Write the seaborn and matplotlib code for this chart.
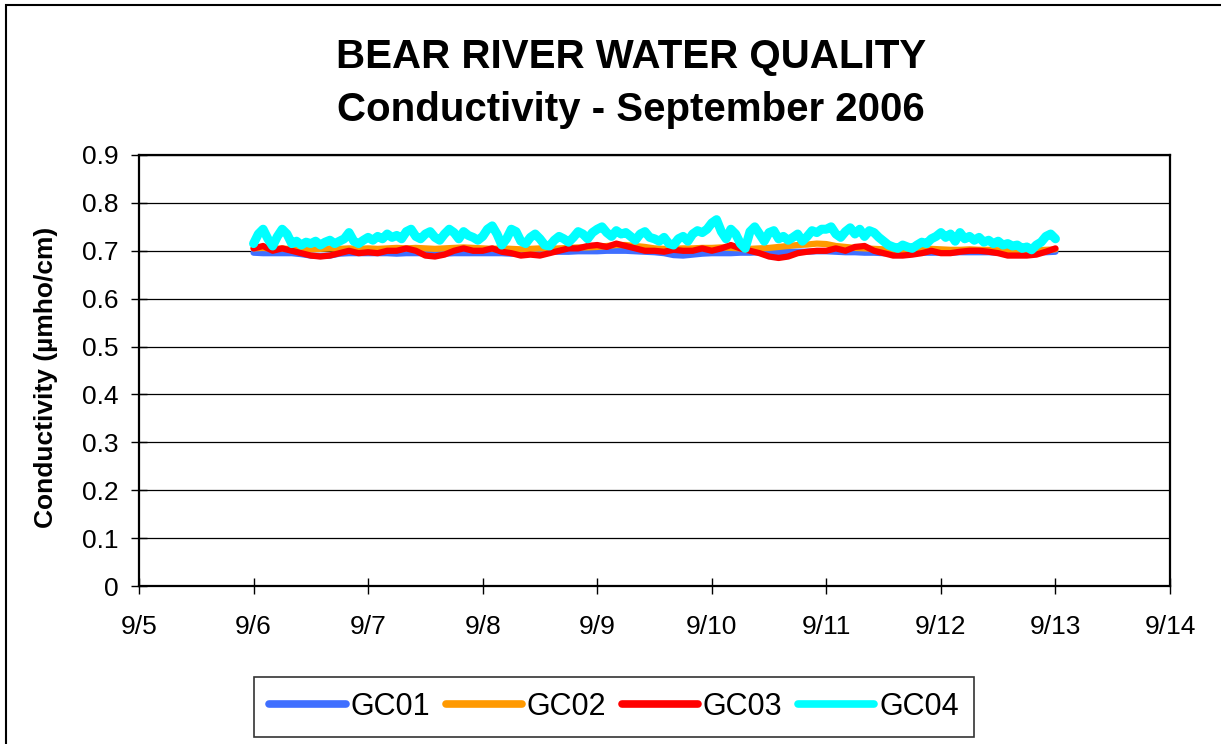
import numpy as np
import pandas as pd
import matplotlib.pyplot as plt
import seaborn as sns
from matplotlib.patches import Rectangle


# ==========================================
# DATA
# GC01-GC03: 2-hour steps, GC04: 1-hour steps, 9/6 00:00 to 9/13 00:00
# ==========================================

series_names = ['GC01', 'GC02', 'GC03', 'GC04']
series_colors = ['#3F6FFF', '#FF9900', '#FF0000', '#00FFFF']

gc01 = [
    0.696, 0.695, 0.695, 0.695, 0.695, 0.693, 0.690, 0.689, 0.690, 0.694, 0.695, 0.695,
    0.695, 0.695, 0.695, 0.694, 0.695, 0.695, 0.695, 0.695, 0.694, 0.695, 0.695, 0.695,
    0.695, 0.695, 0.695, 0.694, 0.695, 0.696, 0.697, 0.698, 0.698, 0.698, 0.699, 0.699,
    0.699, 0.700, 0.700, 0.700, 0.699, 0.698, 0.697, 0.695, 0.691, 0.690, 0.692, 0.694,
    0.695, 0.695, 0.695, 0.696, 0.696, 0.697, 0.697, 0.697, 0.698, 0.698, 0.698, 0.699,
    0.699, 0.698, 0.697, 0.697, 0.696, 0.696, 0.695, 0.695, 0.695, 0.696, 0.696, 0.696,
    0.696, 0.696, 0.697, 0.697, 0.697, 0.697, 0.696, 0.696, 0.696, 0.696, 0.697, 0.697,
    0.698,
]

gc02 = [
    0.705, 0.706, 0.704, 0.705, 0.703, 0.702, 0.703, 0.704, 0.705, 0.704, 0.705, 0.704,
    0.705, 0.704, 0.705, 0.706, 0.705, 0.706, 0.705, 0.704, 0.705, 0.706, 0.707, 0.706,
    0.705, 0.704, 0.705, 0.704, 0.703, 0.704, 0.705, 0.704, 0.705, 0.706, 0.707, 0.707,
    0.708, 0.710, 0.712, 0.712, 0.710, 0.708, 0.705, 0.704, 0.704, 0.705, 0.705, 0.706,
    0.706, 0.707, 0.706, 0.705, 0.704, 0.705, 0.706, 0.708, 0.710, 0.712, 0.713, 0.715,
    0.714, 0.710, 0.708, 0.706, 0.705, 0.704, 0.703, 0.702, 0.702, 0.703, 0.703, 0.704,
    0.703, 0.702, 0.702, 0.703, 0.702, 0.702, 0.701, 0.700, 0.700, 0.700, 0.701, 0.702,
    0.703,
]

gc03 = [
    0.705, 0.710, 0.700, 0.705, 0.700, 0.695, 0.690, 0.688, 0.690, 0.695, 0.700, 0.695,
    0.697, 0.695, 0.700, 0.700, 0.705, 0.700, 0.690, 0.688, 0.692, 0.700, 0.705, 0.700,
    0.700, 0.705, 0.698, 0.695, 0.690, 0.692, 0.690, 0.695, 0.700, 0.705, 0.705, 0.710,
    0.712, 0.708, 0.715, 0.710, 0.705, 0.700, 0.700, 0.698, 0.702, 0.700, 0.700, 0.705,
    0.700, 0.705, 0.712, 0.705, 0.700, 0.695, 0.688, 0.685, 0.688, 0.695, 0.698, 0.700,
    0.700, 0.705, 0.700, 0.708, 0.710, 0.700, 0.695, 0.690, 0.690, 0.692, 0.695, 0.700,
    0.695, 0.695, 0.698, 0.700, 0.700, 0.698, 0.695, 0.690, 0.690, 0.690, 0.692, 0.698,
    0.705,
]

gc04 = [
    # 9/6
    0.715, 0.735, 0.745, 0.725, 0.710, 0.730, 0.745, 0.735, 0.715, 0.720, 0.712, 0.718,
    0.715, 0.720, 0.712, 0.718, 0.722, 0.715, 0.720, 0.725, 0.738, 0.720, 0.715, 0.722,
    # 9/7
    0.728, 0.722, 0.730, 0.725, 0.735, 0.728, 0.732, 0.725, 0.740, 0.745, 0.730, 0.725,
    0.735, 0.740, 0.728, 0.722, 0.735, 0.745, 0.738, 0.725, 0.740, 0.732, 0.728, 0.722,
    # 9/8
    0.730, 0.745, 0.752, 0.735, 0.712, 0.725, 0.745, 0.740, 0.720, 0.715, 0.728, 0.735,
    0.725, 0.712, 0.710, 0.722, 0.730, 0.725, 0.718, 0.728, 0.740, 0.735, 0.725, 0.738,
    # 9/9
    0.745, 0.750, 0.738, 0.730, 0.742, 0.735, 0.738, 0.730, 0.722, 0.735, 0.740, 0.728,
    0.725, 0.720, 0.728, 0.715, 0.712, 0.725, 0.730, 0.720, 0.735, 0.742, 0.738, 0.745,
    # 9/10
    0.758, 0.765, 0.740, 0.725, 0.745, 0.735, 0.715, 0.705, 0.740, 0.750, 0.735, 0.720,
    0.738, 0.742, 0.725, 0.730, 0.722, 0.728, 0.735, 0.720, 0.730, 0.742, 0.738, 0.745,
    # 9/11
    0.745, 0.750, 0.735, 0.728, 0.740, 0.748, 0.735, 0.745, 0.730, 0.742, 0.738, 0.728,
    0.720, 0.712, 0.708, 0.705, 0.712, 0.708, 0.705, 0.712, 0.718, 0.715, 0.725, 0.730,
    # 9/12
    0.738, 0.728, 0.735, 0.720, 0.738, 0.725, 0.730, 0.722, 0.728, 0.718, 0.722, 0.715,
    0.720, 0.712, 0.715, 0.710, 0.712, 0.705, 0.708, 0.702, 0.712, 0.718, 0.730, 0.735,
    # 9/13 00:00
    0.725,
]

# time in days of September (9/6 = 6.0)
day_2h = [6 + i / 12 for i in range(len(gc01))]
day_1h = [6 + i / 24 for i in range(len(gc04))]

x_ticks = [5, 6, 7, 8, 9, 10, 11, 12, 13, 14]
x_tick_labels = ['9/5', '9/6', '9/7', '9/8', '9/9', '9/10', '9/11', '9/12', '9/13', '9/14']
y_ticks = [0, 0.1, 0.2, 0.3, 0.4, 0.5, 0.6, 0.7, 0.8, 0.9]
y_tick_labels = ['0', '0.1', '0.2', '0.3', '0.4', '0.5', '0.6', '0.7', '0.8', '0.9']


# ==========================================
# LONG TABLE FOR SEABORN
# ==========================================

df = pd.concat([
    pd.DataFrame({'day': t, 'value': vals, 'site': name})
    for name, t, vals in zip(
        series_names,
        [day_2h, day_2h, day_2h, day_1h],
        [gc01, gc02, gc03, gc04]
    )
])


# ==========================================
# PLOT
# ==========================================

sns.set_style('white')
plt.rcParams['font.family'] = ['Liberation Sans', 'DejaVu Sans']
plt.rcParams['text.color'] = 'black'
plt.rcParams['axes.labelcolor'] = 'black'

fig = plt.figure(figsize=(12.21, 7.44), dpi=100)
ax = fig.add_axes([139 / 1221, 1 - 586 / 744, (1170 - 139) / 1221, (586 - 155) / 744])

sns.lineplot(
    data=df,
    x='day',
    y='value',
    hue='site',
    hue_order=series_names,
    palette=series_colors,
    linewidth=4.5,
    solid_capstyle='round',
    solid_joinstyle='round',
    legend=False,
    ax=ax
)

# the GC04 band is thicker in the original (dense readings)
ax.lines[3].set_linewidth(6.5)

ax.set_xlim(5, 14)
ax.set_ylim(0, 0.9)
ax.set_xticks(x_ticks)
ax.set_xticklabels(x_tick_labels, fontsize=19)
ax.set_yticks(y_ticks)
ax.set_yticklabels(y_tick_labels, fontsize=19)
ax.set_xlabel('')
ax.set_ylabel('Conductivity (µmho/cm)', fontsize=19, fontweight='bold')
ax.yaxis.set_label_coords((58 - 139) / 1031, 0.485)

ax.grid(axis='y', color='black', linewidth=0.9)
ax.set_axisbelow(True)
ax.tick_params(axis='x', direction='inout', length=12, width=1, pad=15, colors='black')
ax.tick_params(axis='y', direction='inout', length=11, width=1, pad=9, colors='black')
ax.tick_params(left=True, bottom=True)

for side in ['left', 'bottom', 'top', 'right']:
    ax.spines[side].set_color('black')
    ax.spines[side].set_linewidth(1.6)

# titles
fig.text(631 / 1221, 1 - 57 / 744, 'BEAR RIVER WATER QUALITY',
         ha='center', va='center', fontsize=29, fontweight='bold')
fig.text(631 / 1221, 1 - 110 / 744, 'Conductivity - September 2006',
         ha='center', va='center', fontsize=29, fontweight='bold')

# legend
handles = [plt.Line2D([], [], color=c, linewidth=5.5, solid_capstyle='round')
           for c in series_colors]
leg = fig.legend(
    handles,
    series_names,
    loc='center',
    bbox_to_anchor=(614 / 1221, 1 - 707 / 744),
    ncol=4,
    fontsize=22,
    frameon=True,
    fancybox=False,
    edgecolor='black',
    handlelength=2.5,
    handletextpad=0.16,
    columnspacing=0.5,
    borderpad=0.5
)
leg.get_frame().set_linewidth(1.2)

# outer chart border
fig.patches.append(Rectangle((6 / 1221, -0.01), 1.1, 1 - 5 / 744 + 0.01,
                             transform=fig.transFigure, fill=False,
                             edgecolor='black', linewidth=1.5))

fig.savefig('out.png', dpi=100)
